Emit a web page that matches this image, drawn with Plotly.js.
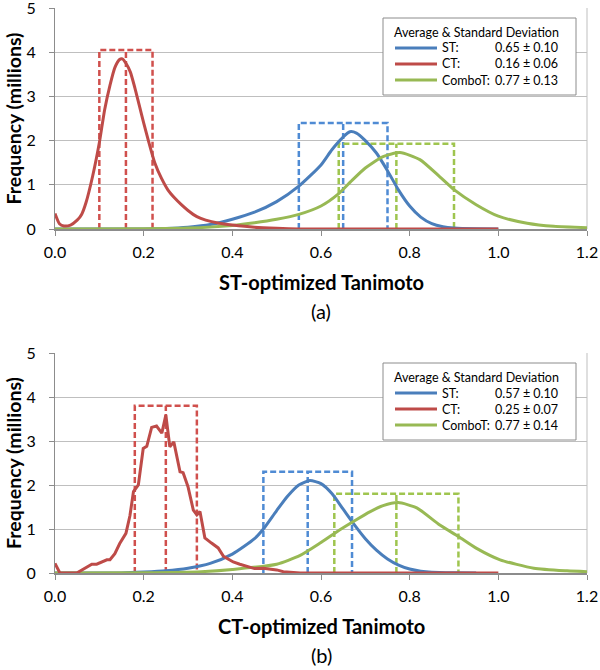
<!DOCTYPE html>
<html><head><meta charset="utf-8">
<script src="https://cdn.plot.ly/plotly-3.0.1.min.js"></script>
<style>html,body{margin:0;padding:0;background:#fff}#chart{width:600px;height:670px}</style>
</head><body><div id="chart"></div>
<script>
// ---------- DATA ----------
const seriesNames = ["ST", "CT", "ComboT"];
const xTickVals = [0, 0.2, 0.4, 0.6, 0.8, 1.0, 1.2];
const xTickText = ["0.0", "0.2", "0.4", "0.6", "0.8", "1.0", "1.2"];
const yTickVals = [0, 1, 2, 3, 4, 5];

// Panel (a): ST-optimized Tanimoto
const aST_x = [0, 0.2, 0.25, 0.3, 0.35, 0.4, 0.45, 0.5, 0.55, 0.6, 0.625, 0.65, 0.665, 0.68, 0.7, 0.725, 0.75, 0.775, 0.8, 0.825, 0.85, 0.875, 0.9, 0.95, 1.0];
const aST_y = [0, 0, 0.01, 0.04, 0.1, 0.22, 0.38, 0.62, 0.97, 1.45, 1.8, 2.08, 2.2, 2.17, 2.0, 1.72, 1.32, 0.88, 0.52, 0.27, 0.12, 0.05, 0.02, 0.003, 0];
const aCT_x = [0, 0.01, 0.02, 0.035, 0.05, 0.06, 0.07, 0.085, 0.1, 0.112, 0.124, 0.135, 0.145, 0.152, 0.16, 0.17, 0.18, 0.19, 0.2, 0.212, 0.225, 0.24, 0.255, 0.27, 0.285, 0.3, 0.32, 0.34, 0.37, 0.4, 0.45, 0.5, 0.55, 1.0];
const aCT_y = [0.35, 0.12, 0.07, 0.09, 0.2, 0.33, 0.6, 1.2, 1.95, 2.7, 3.25, 3.65, 3.83, 3.85, 3.75, 3.55, 3.2, 2.8, 2.4, 1.95, 1.5, 1.15, 0.88, 0.7, 0.55, 0.42, 0.28, 0.2, 0.13, 0.09, 0.04, 0.015, 0, 0];
const aCombo_x = [0, 0.2, 0.3, 0.4, 0.45, 0.5, 0.55, 0.6, 0.64, 0.67, 0.7, 0.74, 0.778, 0.823, 0.868, 0.9, 0.95, 1.0, 1.065, 1.125, 1.2];
const aCombo_y = [0, 0.005, 0.02, 0.08, 0.14, 0.22, 0.33, 0.52, 0.8, 1.1, 1.38, 1.64, 1.73, 1.57, 1.18, 0.89, 0.55, 0.29, 0.13, 0.06, 0.03];
const aMean = [0.65, 0.16, 0.77];
const aStd = [0.10, 0.06, 0.13];
const aTop = [2.4, 4.05, 1.93];

// Panel (b): CT-optimized Tanimoto
const bST_x = [0, 0.15, 0.2, 0.25, 0.3, 0.35, 0.4, 0.45, 0.47, 0.5, 0.525, 0.55, 0.575, 0.6, 0.625, 0.65, 0.675, 0.7, 0.725, 0.75, 0.775, 0.8, 0.825, 0.85, 0.9, 0.95];
const bST_y = [0, 0, 0.02, 0.05, 0.11, 0.22, 0.43, 0.78, 1.0, 1.42, 1.75, 2.0, 2.1, 2.03, 1.8, 1.45, 1.1, 0.78, 0.52, 0.32, 0.18, 0.09, 0.04, 0.015, 0.003, 0];
const bCT_x = [0, 0.011, 0.049, 0.064, 0.083, 0.094, 0.105, 0.117, 0.124, 0.135, 0.146, 0.16, 0.169, 0.177, 0.188, 0.199, 0.207, 0.218, 0.229, 0.241, 0.25, 0.259, 0.268, 0.282, 0.289, 0.3, 0.312, 0.32, 0.327, 0.338, 0.353, 0.368, 0.38, 0.391, 0.402, 0.417, 0.432, 0.45, 0.47, 0.5, 0.515, 0.553, 1.0];
const bCT_y = [0.22, 0, 0, 0.08, 0.2, 0.2, 0.25, 0.3, 0.3, 0.44, 0.67, 0.9, 1.3, 1.85, 2.0, 2.83, 2.88, 3.31, 3.34, 3.18, 3.59, 2.87, 2.98, 2.3, 2.28, 1.96, 1.43, 1.32, 1.4, 0.8, 0.68, 0.57, 0.38, 0.32, 0.25, 0.2, 0.16, 0.1, 0.11, 0.07, 0.03, 0, 0];
const bCombo_x = [0, 0.2, 0.33, 0.4, 0.5, 0.553, 0.598, 0.636, 0.673, 0.71, 0.74, 0.774, 0.816, 0.868, 0.91, 0.951, 1.004, 1.08, 1.155, 1.2];
const bCombo_y = [0, 0.005, 0.03, 0.08, 0.2, 0.4, 0.68, 0.94, 1.17, 1.39, 1.53, 1.6, 1.48, 1.09, 0.83, 0.56, 0.3, 0.11, 0.05, 0.03];
const bMean = [0.57, 0.25, 0.77];
const bStd = [0.10, 0.07, 0.14];
const bTop = [2.3, 3.8, 1.8];

// ---------- STYLE ----------
const curveColors = ["#4A7EBB", "#BE4B48", "#98B954"];
const dashColors = ["#4F8BD4", "#D0504D", "#9FC54F"];
const W = 600, H = 670;
const px = x => x / W;
const py = y => 1 - y / H;
const FONT = "Lato, 'Open Sans', sans-serif";

function curve(x, y, i, xa, ya, shape) {
  return {x: x, y: y, xaxis: xa, yaxis: ya, type: "scatter", mode: "lines", name: seriesNames[i],
    line: {color: curveColors[i], width: 3, shape: shape, smoothing: 0.6}, hoverinfo: "skip"};
}
function box(mean, std, top, i, xa, ya) {
  const lo = mean[i] - std[i], hi = mean[i] + std[i];
  return {x: [lo, lo, hi, hi, null, mean[i], mean[i]], y: [0, top[i], top[i], 0, null, 0, top[i]],
    xaxis: xa, yaxis: ya, type: "scatter", mode: "lines", showlegend: false,
    line: {color: dashColors[i], width: 2.5, dash: "6px,3px"}, hoverinfo: "skip", connectgaps: false};
}

const traces = [];
for (let i = 0; i < 3; i++) traces.push(box(aMean, aStd, aTop, i, "x", "y"));
for (let i = 0; i < 3; i++) traces.push(box(bMean, bStd, bTop, i, "x2", "y2"));
traces.push(curve(aST_x, aST_y, 0, "x", "y", "spline"));
traces.push(curve(aCombo_x, aCombo_y, 2, "x", "y", "spline"));
traces.push(curve(aCT_x, aCT_y, 1, "x", "y", "spline"));
traces.push(curve(bST_x, bST_y, 0, "x2", "y2", "spline"));
traces.push(curve(bCombo_x, bCombo_y, 2, "x2", "y2", "spline"));
traces.push(curve(bCT_x, bCT_y, 1, "x2", "y2", "linear"));

function xAxis(anchor) {
  return {domain: [px(55), px(587)], range: [0, 1.2], anchor: anchor, tickvals: xTickVals, ticktext: xTickText,
    showgrid: false, zeroline: false, showline: true, linecolor: "#8C8C8C", linewidth: 1.5,
    ticks: "outside", ticklen: 5, tickcolor: "#8C8C8C", tickwidth: 1, ticklabelstandoff: 3,
    ticklabeloverflow: "allow", tickfont: {family: FONT, size: 16, color: "#000"}, fixedrange: true};
}
function yAxis(top, bottom, anchor) {
  return {domain: [py(bottom), py(top)], range: [0, 5], anchor: anchor, tickvals: yTickVals,
    showgrid: true, gridcolor: "#BFBFBF", gridwidth: 1, zeroline: false, showline: true, linecolor: "#8C8C8C", linewidth: 1,
    ticks: "outside", ticklen: 5, tickcolor: "#8C8C8C", tickwidth: 1, ticklabelstandoff: 10,
    ticklabeloverflow: "allow", tickfont: {family: FONT, size: 16, color: "#000"}, fixedrange: true};
}

const panels = [
  {top: 8, bottom: 229, xa: "x", ya: "y", title: "ST-optimized Tanimoto", tag: "(a)", mean: aMean, std: aStd, off: 0},
  {top: 353, bottom: 573, xa: "x2", ya: "y2", title: "CT-optimized Tanimoto", tag: "(b)", mean: bMean, std: bStd, off: 345}
];

const annotations = [];
const shapes = [];
panels.forEach(p => {
  const mid = (p.top + p.bottom) / 2;
  annotations.push({xref: "paper", yref: "paper", x: px(321), y: py(p.bottom + 53), text: "<b>" + p.title + "</b>",
    showarrow: false, xanchor: "center", yanchor: "middle", font: {family: FONT, size: 20, color: "#000"}});
  annotations.push({xref: "paper", yref: "paper", x: px(321), y: py(p.bottom + 82), text: p.tag,
    showarrow: false, xanchor: "center", yanchor: "middle", font: {family: FONT, size: 20, color: "#000"}});
  annotations.push({xref: "paper", yref: "paper", x: px(13), y: py(mid), text: "<b>Frequency (millions)</b>", textangle: -90,
    showarrow: false, xanchor: "center", yanchor: "middle", font: {family: FONT, size: 19.5, color: "#000"}});
  // right plot-area border
  const xd = p.xa === "x" ? "x domain" : "x2 domain";
  const yd = p.ya === "y" ? "y domain" : "y2 domain";
  shapes.push({type: "line", xref: xd, yref: yd, x0: 1, x1: 1, y0: 0, y1: 1, line: {color: "#BFBFBF", width: 1}, layer: "below"});
  // legend box
  const o = p.off;
  shapes.push({type: "rect", xref: "paper", yref: "paper", x0: px(383), x1: px(576), y0: py(95 + o), y1: py(18 + o),
    fillcolor: "#fff", line: {color: "#8C8C8C", width: 1}, layer: "above"});
  annotations.push({xref: "paper", yref: "paper", x: px(392), y: py(32 + o), text: "Average &amp; Standard Deviation",
    showarrow: false, xanchor: "left", yanchor: "middle", font: {family: FONT, size: 12.5, color: "#000"}});
  const rows = [48, 64, 80];
  for (let i = 0; i < 3; i++) {
    shapes.push({type: "line", xref: "paper", yref: "paper", x0: px(395), x1: px(437), y0: py(rows[i] + o), y1: py(rows[i] + o),
      line: {color: curveColors[i], width: 3}, layer: "above"});
    annotations.push({xref: "paper", yref: "paper", x: px(440), y: py(rows[i] + o), text: seriesNames[i] + ":",
      showarrow: false, xanchor: "left", yanchor: "middle", font: {family: FONT, size: 12.5, color: "#000"}});
    annotations.push({xref: "paper", yref: "paper", x: px(560), y: py(rows[i] + o),
      text: p.mean[i].toFixed(2) + " ± " + p.std[i].toFixed(2),
      showarrow: false, xanchor: "right", yanchor: "middle", font: {family: FONT, size: 12.5, color: "#000"}});
  }
});

const layout = {
  width: W, height: H, margin: {l: 0, r: 0, t: 0, b: 0},
  paper_bgcolor: "#fff", plot_bgcolor: "#fff", showlegend: false,
  font: {family: FONT, size: 16, color: "#000"},
  xaxis: xAxis("y"), yaxis: yAxis(8, 229, "x"),
  xaxis2: xAxis("y2"), yaxis2: yAxis(353, 573, "x2"),
  annotations: annotations, shapes: shapes
};

Plotly.newPlot("chart", traces, layout, {staticPlot: true, displayModeBar: false});
</script>
</body></html>
